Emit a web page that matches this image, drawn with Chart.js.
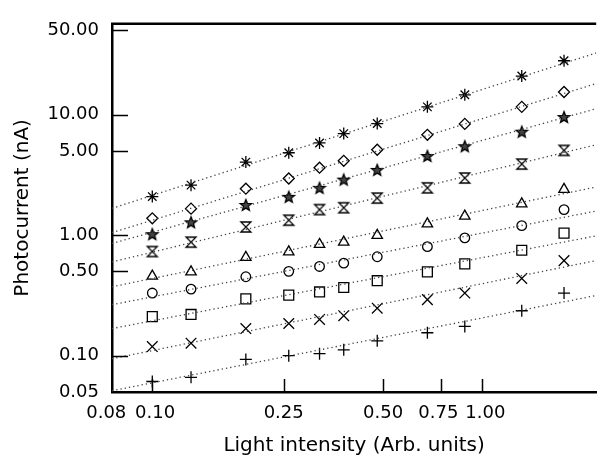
<!DOCTYPE html>
<html>
<head>
<meta charset="utf-8">
<script src="https://cdn.jsdelivr.net/npm/chart.js@4.4.0/dist/chart.umd.min.js"></script>
<style>
  html, body { margin: 0; padding: 0; background: #fff; }
  #wrap { width: 605px; height: 463px; }
</style>
</head>
<body>
<div id="wrap"><canvas id="chart" width="605" height="463"></canvas></div>
<script>
// light intensity (Arb. units) of the measured points
const intensity = [0.100, 0.131, 0.192, 0.259, 0.321, 0.380, 0.480, 0.681, 0.884, 1.315, 1.766];

// photocurrent (nA), one array per marker, top to bottom
const curAsterisk  = [2.09, 2.60, 4.04, 4.83, 5.82, 6.96, 8.43, 11.6, 14.6, 20.9, 28.0];
const curDiamond   = [1.38, 1.66, 2.43, 2.95, 3.63, 4.14, 5.11, 6.80, 8.38, 11.6, 15.4];
const curStar      = [1.02, 1.28, 1.78, 2.08, 2.47, 2.89, 3.48, 4.54, 5.47, 7.22, 9.55];
const curHourglass = [0.732, 0.875, 1.17, 1.33, 1.63, 1.69, 2.03, 2.47, 2.98, 3.89, 5.05];
const curTriangle  = [0.457, 0.496, 0.655, 0.727, 0.838, 0.875, 0.996, 1.24, 1.44, 1.82, 2.40];
const curCircle    = [0.331, 0.357, 0.452, 0.501, 0.550, 0.586, 0.662, 0.803, 0.949, 1.20, 1.63];
const curSquare    = [0.211, 0.220, 0.296, 0.318, 0.338, 0.368, 0.419, 0.496, 0.578, 0.750, 1.04];
const curCross     = [0.119, 0.127, 0.168, 0.185, 0.200, 0.215, 0.248, 0.292, 0.331, 0.438, 0.615];
const curPlus      = [0.0611, 0.0662, 0.0932, 0.100, 0.104, 0.112, 0.133, 0.155, 0.175, 0.236, 0.331];

// dotted fit lines: value at the left and at the right edge of the plot
const fitX         = [0.0755, 2.21];
const fitAsterisk  = [1.67, 32.5];
const fitDiamond   = [1.05, 18.1];
const fitStar      = [0.854, 11.2];
const fitHourglass = [0.600, 5.62];
const fitTriangle  = [0.373, 2.51];
const fitCircle    = [0.265, 1.585];
const fitSquare    = [0.168, 0.987];
const fitCross     = [0.0944, 0.616];
const fitPlus      = [0.0512, 0.316];

// axes
const xMin = 0.0755, xMax = 2.21;
const yMin = 0.05, yMax = 56.7;
const xTickValues = [0.0755, 0.10, 0.25, 0.50, 0.75, 1.00];
const xTickLabels = ['0.08  ', ' 0.10', '0.25', '0.50', '0.75 ', ' 1.00'];  // spaces nudge crowded labels apart
const yTickValues = [0.05, 0.10, 0.50, 1.00, 5.00, 10.00, 50.00];

const FONT = 'DejaVu Sans';

// markers Chart.js does not have
function makeMarker(draw) {
    const c = document.createElement('canvas');
    c.width = 16; c.height = 16;
    const g = c.getContext('2d');
    g.translate(8, 8);
    g.strokeStyle = '#000';
    g.lineWidth = 1.3;
    draw(g);
    return c;
}
const hourglassMark = makeMarker(function(g) {
    g.beginPath();
    g.moveTo(-5, -5); g.lineTo(5, -5); g.lineTo(-5, 5); g.lineTo(5, 5);
    g.closePath();
    g.stroke();
});
const starMark = makeMarker(function(g) {
    g.beginPath();
    for (let i = 0; i < 10; i++) {
        const r = i % 2 ? 2.6 : 6;
        const a = -Math.PI / 2 + i * Math.PI / 5;
        g.lineTo(r * Math.cos(a), r * Math.sin(a) + 0.5);
    }
    g.closePath();
    g.fillStyle = '#444';
    g.fill();
    g.stroke();
});

function points(vals) {
    return intensity.map((x, i) => ({ x: x, y: vals[i] }));
}
function fit(vals) {
    return fitX.map((x, i) => ({ x: x, y: vals[i] }));
}

const series = [
    { fit: fitAsterisk,  cur: curAsterisk,  style: 'star',        r: 6 },
    { fit: fitDiamond,   cur: curDiamond,   style: 'rectRot',     r: 5.5 },
    { fit: fitStar,      cur: curStar,      style: starMark,      r: 6 },
    { fit: fitHourglass, cur: curHourglass, style: hourglassMark, r: 6 },
    { fit: fitTriangle,  cur: curTriangle,  style: 'triangle',    r: 6 },
    { fit: fitCircle,    cur: curCircle,    style: 'circle',      r: 4.8 },
    { fit: fitSquare,    cur: curSquare,    style: 'rect',        r: 7 },
    { fit: fitCross,     cur: curCross,     style: 'crossRot',    r: 7.5 },
    { fit: fitPlus,      cur: curPlus,      style: 'cross',       r: 6 }
];

const datasets = [];
series.forEach(function(s) {
    datasets.push({
        data: fit(s.fit),
        showLine: true,
        borderColor: '#444',
        borderWidth: 1.3,
        borderDash: [1.3, 3],
        pointRadius: 0
    });
});
series.forEach(function(s) {
    datasets.push({
        data: points(s.cur),
        showLine: false,
        pointStyle: s.style,
        pointRadius: s.r,
        pointBorderColor: '#000',
        pointBackgroundColor: 'rgba(0,0,0,0)',
        pointBorderWidth: 1.3,
        clip: false
    });
});

// inward tick marks and the top frame line
const frame = {
    id: 'frame',
    afterDraw(chart) {
        const ctx = chart.ctx, a = chart.chartArea;
        const xs = chart.scales.x, ys = chart.scales.y;
        ctx.save();
        ctx.strokeStyle = '#000';
        ctx.lineWidth = 2.5;
        ctx.beginPath();
        ctx.moveTo(a.left - 1, a.top);
        ctx.lineTo(a.right, a.top);
        ctx.stroke();
        ctx.lineWidth = 1.5;
        ctx.beginPath();
        xTickValues.slice(1).forEach(function(v) {
            const px = Math.round(xs.getPixelForValue(v)) + 0.5;
            ctx.moveTo(px, a.bottom);
            ctx.lineTo(px, a.bottom - 13);
        });
        yTickValues.slice(1).forEach(function(v) {
            const py = Math.round(ys.getPixelForValue(v)) + 0.5;
            ctx.moveTo(a.left, py);
            ctx.lineTo(a.left + 16, py);
        });
        ctx.stroke();
        ctx.restore();
    }
};

new Chart(document.getElementById('chart'), {
    type: 'scatter',
    data: { datasets: datasets },
    options: {
        responsive: false,
        animation: false,
        layout: { padding: { top: 13, right: 0, bottom: 0, left: 0 } },
        plugins: { legend: { display: false }, tooltip: { enabled: false } },
        scales: {
            x: {
                type: 'logarithmic',
                min: xMin,
                max: xMax,
                afterBuildTicks: function(s) { s.ticks = xTickValues.map(v => ({ value: v })); },
                afterFit: function(s) { s.height = 71; },
                grid: { display: false, drawTicks: false },
                border: { display: true, color: '#000', width: 2.5 },
                ticks: {
                    autoSkip: false,
                    maxRotation: 0,
                    padding: 11,
                    color: '#000',
                    font: { family: FONT, size: 18 },
                    callback: function(v, i) { return xTickLabels[i]; }
                },
                title: {
                    display: true,
                    text: 'Light intensity (Arb. units)',
                    color: '#000',
                    font: { family: FONT, size: 20 },
                    padding: { top: 0, bottom: 5 }
                }
            },
            y: {
                type: 'logarithmic',
                min: yMin,
                max: yMax,
                afterBuildTicks: function(s) { s.ticks = yTickValues.map(v => ({ value: v })); },
                afterFit: function(s) { s.width = 112; },
                grid: { display: false, drawTicks: false },
                border: { display: true, color: '#000', width: 2.5 },
                ticks: {
                    autoSkip: false,
                    padding: 13,
                    color: '#000',
                    font: { family: FONT, size: 18 },
                    callback: function(v) { return Number(v).toFixed(2); }
                },
                title: {
                    display: true,
                    text: 'Photocurrent (nA)',
                    color: '#000',
                    font: { family: FONT, size: 20 },
                    padding: { top: 11, bottom: 0 }
                }
            }
        }
    },
    plugins: [frame]
});
</script>
</body>
</html>
